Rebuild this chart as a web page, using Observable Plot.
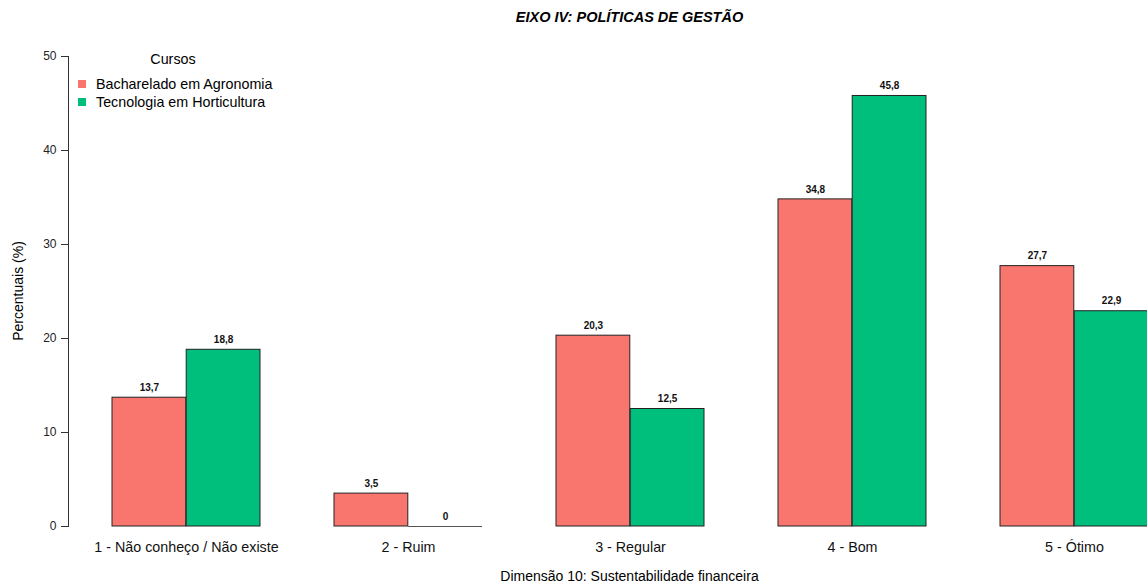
<!DOCTYPE html>
<html>
<head>
<meta charset="utf-8">
<script src="https://cdn.jsdelivr.net/npm/d3@7"></script>
<script src="https://cdn.jsdelivr.net/npm/@observablehq/plot@0.6"></script>
<style>
  html, body { margin: 0; padding: 0; background: #fff; overflow: hidden; }
  #wrap { position: relative; width: 1191px; height: 586px; }
  #title { position: absolute; left: 68px; width: 1123px; top: 9px; text-align: center;
           font: italic bold 14.5px "Liberation Sans", Arial, sans-serif; color: #000; }
  #legend { position: absolute; left: 78px; top: 51px; font: 14.3px "Liberation Sans", Arial, sans-serif; color: #000; }
  #legend .lt { text-align: center; width: 190px; height: 20px; margin-bottom: 4px; }
  #legend .it { display: flex; align-items: center; height: 18px; }
  #legend .sw { width: 8px; height: 8px; margin: 0 10px 0 0; }
  #ylab { position: absolute; left: 18px; top: 291px; transform: translate(-50%, -50%) rotate(-90deg);
          white-space: nowrap; font: 14px "Liberation Sans", Arial, sans-serif; color: #000; }
  #xlab { position: absolute; left: 68px; width: 1123px; top: 568px; text-align: center;
          font: 14px "Liberation Sans", Arial, sans-serif; color: #000; }
</style>
</head>
<body>
<div id="wrap">
  <div id="chart"></div>
  <div id="title"></div>
  <div id="legend"></div>
  <div id="ylab"></div>
  <div id="xlab"></div>
</div>
<script>
const titulo = "EIXO IV: POLÍTICAS DE GESTÃO";
const categorias = ["1 - Não conheço / Não existe", "2 - Ruim", "3 - Regular", "4 - Bom", "5 - Ótimo"];
const cursos = ["Bacharelado em Agronomia", "Tecnologia em Horticultura"];
const agronomia = [13.7, 3.5, 20.3, 34.8, 27.7];
const horticultura = [18.8, 0, 12.5, 45.8, 22.9];
const cores = ["#F8766D", "#00BF7D"];
const yTicks = [0, 10, 20, 30, 40, 50];
const legendaTitulo = "Cursos";
const yLabel = "Percentuais (%)";
const xLabel = "Dimensão 10: Sustentabilidade financeira";

const dados = [];
categorias.forEach((c, i) => {
  dados.push({categoria: c, curso: cursos[0], valor: agronomia[i]});
  dados.push({categoria: c, curso: cursos[1], valor: horticultura[i]});
});
const fmt = v => String(v).replace(".", ",");

const width = 1191, height = 586;
const marginLeft = 68, marginRight = 0, marginTop = 56, marginBottom = 60;
const pInner = 1 / 3, pOuter = 0.1888;
const step = (width - marginLeft - marginRight) / (categorias.length - pInner + 2 * pOuter);
const bw = step * (1 - pInner);
const half = bw / 2;

const dA = dados.filter(d => d.curso === cursos[0]);
const dB = dados.filter(d => d.curso === cursos[1]);
const labelFont = {fontFamily: "'Liberation Sans Narrow', 'Liberation Sans', Arial, sans-serif", fontWeight: "bold", fontSize: 10};

const chart = Plot.plot({
  width, height, marginLeft, marginRight, marginTop, marginBottom,
  style: "max-width:none; font-family:'Liberation Sans', Arial, sans-serif; background:#fff;",
  x: {domain: categorias, paddingInner: pInner, paddingOuter: pOuter, align: 0.5},
  y: {domain: [0, 50]},
  color: {domain: cursos, range: cores},
  marks: [
    Plot.barY(dA, {x: "categoria", y: "valor", fill: "curso", stroke: "#222", strokeWidth: 1, insetRight: half}),
    Plot.barY(dB, {x: "categoria", y: "valor", fill: "curso", stroke: "#222", strokeWidth: 1, insetLeft: half}),
    Plot.tickY(dados.filter(d => d.valor === 0), {x: "categoria", y: 0, stroke: "#555", strokeWidth: 1, insetLeft: half}),
    Plot.text(dA, {x: "categoria", y: "valor", text: d => fmt(d.valor), dx: -half / 2, dy: -10, fill: "#111", ...labelFont}),
    Plot.text(dB, {x: "categoria", y: "valor", text: d => fmt(d.valor), dx: half / 2, dy: -10, fill: "#111", ...labelFont}),
    Plot.frame({anchor: "left", stroke: "#333"}),
    Plot.axisY({ticks: yTicks, tickSize: 7, tickPadding: 5, fontSize: 12, color: "#222", stroke: "#333", label: null}),
    Plot.axisX({tickSize: 0, tickPadding: 15, fontSize: 14.3, color: "#111", label: null})
  ]
});
document.getElementById("chart").appendChild(chart);
document.getElementById("title").textContent = titulo;
document.getElementById("ylab").textContent = yLabel;
document.getElementById("xlab").textContent = xLabel;

const leg = document.getElementById("legend");
const lt = document.createElement("div"); lt.className = "lt"; lt.textContent = legendaTitulo; leg.appendChild(lt);
cursos.forEach((c, i) => {
  const it = document.createElement("div"); it.className = "it";
  const sw = document.createElement("span"); sw.className = "sw"; sw.style.background = cores[i];
  const tx = document.createElement("span"); tx.textContent = c;
  it.appendChild(sw); it.appendChild(tx); leg.appendChild(it);
});
</script>
</body>
</html>
